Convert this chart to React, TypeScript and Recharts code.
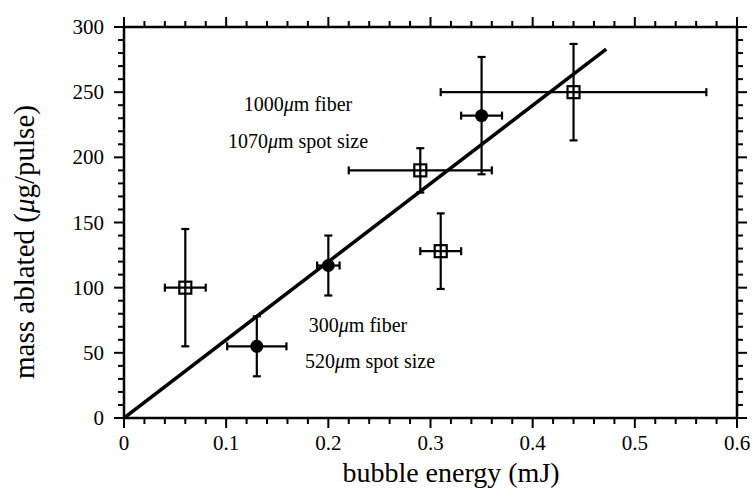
import React from 'react';
import { ComposedChart, Scatter, XAxis, YAxis, ErrorBar, Label } from 'recharts';

// filled circles: 300um fiber / 520um spot
const circleEnergy = [0.13, 0.2, 0.35];
const circleMass = [55, 117, 232];
const circleEnergyErr = [0.029, 0.011, 0.02];
const circleMassErr = [23, 23, 45];

// open squares: 1000um fiber / 1070um spot
const squareEnergy = [0.06, 0.29, 0.31, 0.44];
const squareMass = [100, 190, 128, 250];
const squareEnergyErr = [0.02, 0.07, 0.02, 0.13];
const squareMassErr = [45, 17, 29, 37];

// linear fit
const fitEnergy = [0, 0.472];
const fitMass = [0, 283];

const xTicks = [
  0, 0.02, 0.04, 0.06, 0.08, 0.1, 0.12, 0.14, 0.16, 0.18, 0.2, 0.22, 0.24, 0.26, 0.28, 0.3,
  0.32, 0.34, 0.36, 0.38, 0.4, 0.42, 0.44, 0.46, 0.48, 0.5, 0.52, 0.54, 0.56, 0.58, 0.6,
];
const xTickLabels = ['0', '0.1', '0.2', '0.3', '0.4', '0.5', '0.6'];
const yTicks = [
  0, 10, 20, 30, 40, 50, 60, 70, 80, 90, 100, 110, 120, 130, 140, 150, 160, 170, 180, 190, 200,
  210, 220, 230, 240, 250, 260, 270, 280, 290, 300,
];
const yTickLabels = ['0', '50', '100', '150', '200', '250', '300'];

const circles = circleEnergy.map((x, i) => ({ x, y: circleMass[i], xErr: circleEnergyErr[i], yErr: circleMassErr[i] }));
const squares = squareEnergy.map((x, i) => ({ x, y: squareMass[i], xErr: squareEnergyErr[i], yErr: squareMassErr[i] }));
const fit = fitEnergy.map((x, i) => ({ x, y: fitMass[i] }));

const FONT = '"Liberation Serif", "Times New Roman", serif';
const AXIS = { stroke: '#000', strokeWidth: 2.5 };

const xMajor = (v: number) => Math.abs(v * 10 - Math.round(v * 10)) < 1e-6;
const yMajor = (v: number) => v % 50 === 0;

const BottomTick = ({ x, y, payload }: any) => {
  const major = xMajor(payload.value);
  return (
    <g>
      <line x1={x} y1={y} x2={x} y2={y + (major ? 10 : 6)} stroke="#000" strokeWidth={2} />
      {major && (
        <text x={x} y={y + 32} textAnchor="middle" fontFamily={FONT} fontSize={21} fill="#000">
          {xTickLabels[Math.round(payload.value * 10)]}
        </text>
      )}
    </g>
  );
};

const TopTick = ({ x, y, payload }: any) => {
  const major = xMajor(payload.value);
  return <line x1={x} y1={y} x2={x} y2={y - (major ? 10 : 6)} stroke="#000" strokeWidth={2} />;
};

const LeftTick = ({ x, y, payload }: any) => {
  const major = yMajor(payload.value);
  return (
    <g>
      <line x1={x} y1={y} x2={x - (major ? 10 : 6)} y2={y} stroke="#000" strokeWidth={2} />
      {major && (
        <text x={x - 20} y={y + 7} textAnchor="end" fontFamily={FONT} fontSize={21} fill="#000">
          {yTickLabels[payload.value / 50]}
        </text>
      )}
    </g>
  );
};

const RightTick = ({ x, y, payload }: any) => {
  const major = yMajor(payload.value);
  return <line x1={x} y1={y} x2={x + (major ? 10 : 6)} y2={y} stroke="#000" strokeWidth={2} />;
};

const Mu = () => <tspan fontStyle="italic">μ</tspan>;

const Titles = () => (
  <g fontFamily={FONT} fill="#000">
    <text x={451} y={482} textAnchor="middle" fontSize={28}>bubble energy (mJ)</text>
    <text x={34} y={242} textAnchor="middle" fontSize={29} transform="rotate(-90 34 242)">
      mass ablated (<Mu />g/pulse)
    </text>
    <text x={298} y={111} textAnchor="middle" fontSize={20}>1000<Mu />m fiber</text>
    <text x={298} y={148} textAnchor="middle" fontSize={20}>1070<Mu />m spot size</text>
    <text x={358} y={332} textAnchor="middle" fontSize={20}>300<Mu />m fiber</text>
    <text x={370} y={368} textAnchor="middle" fontSize={20}>520<Mu />m spot size</text>
  </g>
);

const Square = ({ cx, cy }: any) => (
  <rect x={cx - 6} y={cy - 6} width={12} height={12} fill="none" stroke="#000" strokeWidth={2.2} />
);
const Dot = ({ cx, cy }: any) => <circle cx={cx} cy={cy} r={6.5} fill="#000" />;
const NoShape = () => <g />;

export default function App() {
  return (
    <div style={{ position: 'absolute', left: 0, top: 0, background: '#fff' }}>
      <ComposedChart width={752} height={489} margin={{ top: 26, right: 14, bottom: 70, left: 0 }}>
        <XAxis
          xAxisId="b"
          type="number"
          dataKey="x"
          orientation="bottom"
          domain={[0, 0.6]}
          allowDataOverflow
          ticks={xTicks}
          interval={0}
          height={1}
          tickSize={0}
          tickMargin={0}
          tickLine={false}
          axisLine={AXIS}
          tick={<BottomTick />}
        >
          <Label content={() => <Titles />} />
        </XAxis>
        <XAxis
          xAxisId="t"
          type="number"
          dataKey="x"
          orientation="top"
          domain={[0, 0.6]}
          allowDataOverflow
          ticks={xTicks}
          interval={0}
          height={1}
          tickSize={0}
          tickMargin={0}
          tickLine={false}
          axisLine={AXIS}
          tick={<TopTick />}
        />
        <YAxis
          yAxisId="l"
          type="number"
          dataKey="y"
          orientation="left"
          domain={[0, 300]}
          allowDataOverflow
          ticks={yTicks}
          interval={0}
          width={124}
          tickSize={0}
          tickMargin={0}
          tickLine={false}
          axisLine={AXIS}
          tick={<LeftTick />}
        />
        <YAxis
          yAxisId="r"
          type="number"
          dataKey="y"
          orientation="right"
          domain={[0, 300]}
          allowDataOverflow
          ticks={yTicks}
          interval={0}
          width={1}
          tickSize={0}
          tickMargin={0}
          tickLine={false}
          axisLine={AXIS}
          tick={<RightTick />}
        />
        <Scatter xAxisId="t" yAxisId="r" data={fit} shape={<NoShape />} isAnimationActive={false} />
        <Scatter
          xAxisId="b"
          yAxisId="l"
          data={fit}
          line={{ stroke: '#000', strokeWidth: 3.5 }}
          shape={<NoShape />}
          isAnimationActive={false}
        />
        <Scatter xAxisId="b" yAxisId="l" data={squares} shape={<Square />} isAnimationActive={false}>
          <ErrorBar dataKey="xErr" direction="x" width={4} stroke="#000" strokeWidth={2.2} />
          <ErrorBar dataKey="yErr" direction="y" width={4} stroke="#000" strokeWidth={2.2} />
        </Scatter>
        <Scatter xAxisId="b" yAxisId="l" data={circles} shape={<Dot />} isAnimationActive={false}>
          <ErrorBar dataKey="xErr" direction="x" width={4} stroke="#000" strokeWidth={2.2} />
          <ErrorBar dataKey="yErr" direction="y" width={4} stroke="#000" strokeWidth={2.2} />
        </Scatter>
      </ComposedChart>
    </div>
  );
}
